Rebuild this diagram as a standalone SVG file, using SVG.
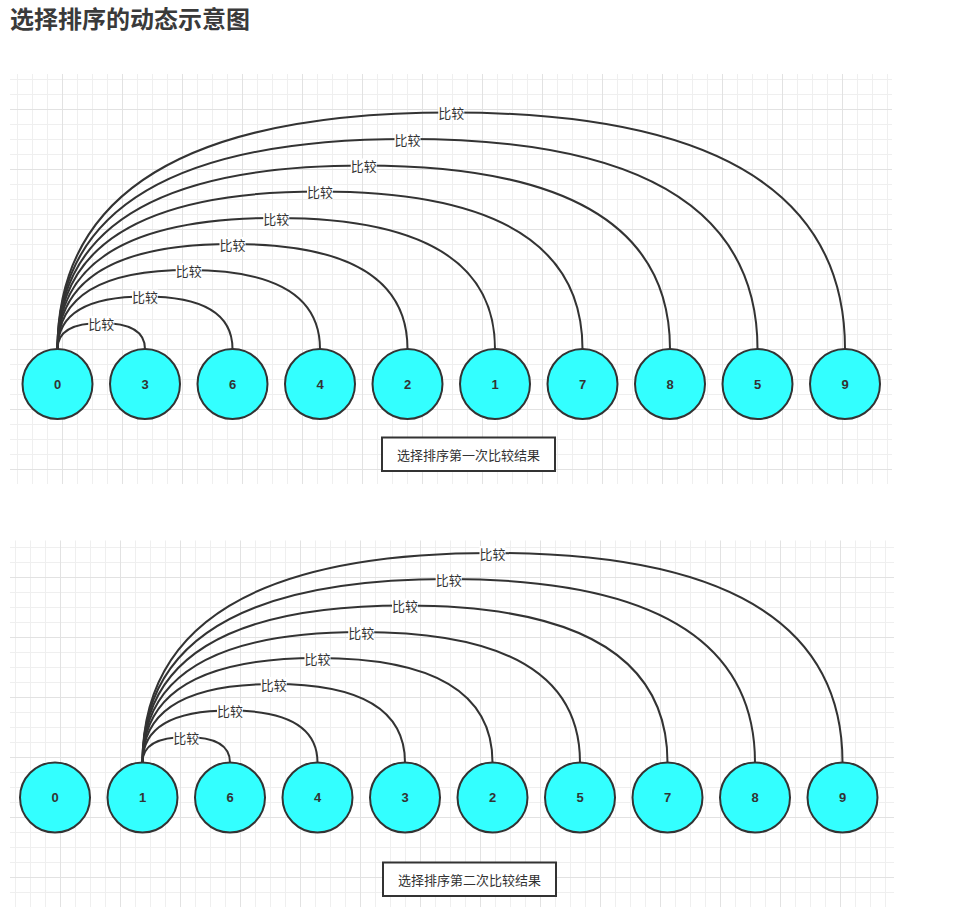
<svg xmlns="http://www.w3.org/2000/svg" width="963" height="907" viewBox="0 0 963 907">
  <defs>
    <!-- 15px minor grid, 60px major grid -->
    <pattern id="grid1" x="62" y="109" width="60" height="60" patternUnits="userSpaceOnUse">
      <path d="M15.5 0V60M30.5 0V60M45.5 0V60M0 15.5H60M0 30.5H60M0 45.5H60" stroke="#efefef" stroke-width="1" fill="none"/>
      <path d="M0.5 0V60M0 0.5H60" stroke="#e2e2e2" stroke-width="1" fill="none"/>
    </pattern>
    <pattern id="grid2" x="60" y="577" width="60" height="60" patternUnits="userSpaceOnUse">
      <path d="M15.5 0V60M30.5 0V60M45.5 0V60M0 15.5H60M0 30.5H60M0 45.5H60" stroke="#efefef" stroke-width="1" fill="none"/>
      <path d="M0.5 0V60M0 0.5H60" stroke="#e2e2e2" stroke-width="1" fill="none"/>
    </pattern>
  </defs>
  <style>
    .title { font-family: "Noto Sans CJK SC", "Liberation Sans", sans-serif; font-size: 24px; font-weight: bold; fill: #3a3a3a; }
    .node circle { fill: #33ffff; stroke: #333333; stroke-width: 2; }
    .node text { font-family: "Liberation Sans", "DejaVu Sans", sans-serif; font-size: 13px; font-weight: bold; fill: #333333; text-anchor: middle; dominant-baseline: central; }
    .edge path { fill: none; stroke: #333333; stroke-width: 2; }
    .edge rect { fill: #ffffff; }
    .edge text { font-family: "Noto Sans CJK SC", sans-serif; font-size: 13px; fill: #333333; text-anchor: middle; dominant-baseline: central; }
    .caption rect { fill: #ffffff; stroke: #333333; stroke-width: 2; }
    .caption text { font-family: "Noto Sans CJK SC", sans-serif; font-size: 13px; fill: #333333; text-anchor: middle; dominant-baseline: central; }
  </style>

  <rect width="963" height="907" fill="#ffffff"/>
  <text class="title" x="10" y="28">选择排序的动态示意图</text>

  <!-- grid backgrounds -->
  <rect x="10" y="74" width="882" height="410" fill="url(#grid1)"/>
  <rect x="10" y="540.5" width="884" height="366.5" fill="url(#grid2)"/>

  <!-- first pass: node 0 compared with every other node -->
  <g id="connectors-1">
    <g class="edge"><path d="M57.5 349Q57.5 323 101.25 323Q145 323 145 349"/><rect x="88.25" y="316" width="26" height="14"/><text x="101.25" y="323">比较</text></g>
    <g class="edge"><path d="M57.5 349Q57.5 296.5 145 296.5Q232.5 296.5 232.5 349"/><rect x="132" y="289.5" width="26" height="14"/><text x="145" y="296.5">比较</text></g>
    <g class="edge"><path d="M57.5 349Q57.5 270 188.75 270Q320 270 320 349"/><rect x="175.75" y="263" width="26" height="14"/><text x="188.75" y="270">比较</text></g>
    <g class="edge"><path d="M57.5 349Q57.5 244 232.5 244Q407.5 244 407.5 349"/><rect x="219.5" y="237" width="26" height="14"/><text x="232.5" y="244">比较</text></g>
    <g class="edge"><path d="M57.5 349Q57.5 218 276.25 218Q495 218 495 349"/><rect x="263.25" y="211" width="26" height="14"/><text x="276.25" y="218">比较</text></g>
    <g class="edge"><path d="M57.5 349Q57.5 191.5 320 191.5Q582.5 191.5 582.5 349"/><rect x="307" y="184.5" width="26" height="14"/><text x="320" y="191.5">比较</text></g>
    <g class="edge"><path d="M57.5 349Q57.5 165.5 363.75 165.5Q670 165.5 670 349"/><rect x="350.75" y="158.5" width="26" height="14"/><text x="363.75" y="165.5">比较</text></g>
    <g class="edge"><path d="M57.5 349Q57.5 139 407.5 139Q757.5 139 757.5 349"/><rect x="394.5" y="132" width="26" height="14"/><text x="407.5" y="139">比较</text></g>
    <g class="edge"><path d="M57.5 349Q57.5 112.5 451.25 112.5Q845 112.5 845 349"/><rect x="438.25" y="105.5" width="26" height="14"/><text x="451.25" y="112.5">比较</text></g>
  </g>

  <g id="row1-n0" class="node"><circle cx="57.5" cy="384" r="35"/><text x="57.5" y="384">0</text></g>
  <g id="row1-n1" class="node"><circle cx="145" cy="384" r="35"/><text x="145" y="384">3</text></g>
  <g id="row1-n2" class="node"><circle cx="232.5" cy="384" r="35"/><text x="232.5" y="384">6</text></g>
  <g id="row1-n3" class="node"><circle cx="320" cy="384" r="35"/><text x="320" y="384">4</text></g>
  <g id="row1-n4" class="node"><circle cx="407.5" cy="384" r="35"/><text x="407.5" y="384">2</text></g>
  <g id="row1-n5" class="node"><circle cx="495" cy="384" r="35"/><text x="495" y="384">1</text></g>
  <g id="row1-n6" class="node"><circle cx="582.5" cy="384" r="35"/><text x="582.5" y="384">7</text></g>
  <g id="row1-n7" class="node"><circle cx="670" cy="384" r="35"/><text x="670" y="384">8</text></g>
  <g id="row1-n8" class="node"><circle cx="757.5" cy="384" r="35"/><text x="757.5" y="384">5</text></g>
  <g id="row1-n9" class="node"><circle cx="845" cy="384" r="35"/><text x="845" y="384">9</text></g>

  <g id="caption-1" class="caption"><rect x="382" y="437.5" width="173" height="33.5"/><text x="468.5" y="454.5">选择排序第一次比较结果</text></g>

  <!-- second pass: node 1 compared with the remaining nodes -->
  <g id="connectors-2">
    <g class="edge"><path d="M142.5 762.5Q142.5 737 186.25 737Q230 737 230 762.5"/><rect x="173.25" y="730" width="26" height="14"/><text x="186.25" y="737">比较</text></g>
    <g class="edge"><path d="M142.5 762.5Q142.5 710.5 230 710.5Q317.5 710.5 317.5 762.5"/><rect x="217" y="703.5" width="26" height="14"/><text x="230" y="710.5">比较</text></g>
    <g class="edge"><path d="M142.5 762.5Q142.5 684 273.75 684Q405 684 405 762.5"/><rect x="260.75" y="677" width="26" height="14"/><text x="273.75" y="684">比较</text></g>
    <g class="edge"><path d="M142.5 762.5Q142.5 658 317.5 658Q492.5 658 492.5 762.5"/><rect x="304.5" y="651" width="26" height="14"/><text x="317.5" y="658">比较</text></g>
    <g class="edge"><path d="M142.5 762.5Q142.5 632 361.25 632Q580 632 580 762.5"/><rect x="348.25" y="625" width="26" height="14"/><text x="361.25" y="632">比较</text></g>
    <g class="edge"><path d="M142.5 762.5Q142.5 605.5 405 605.5Q667.5 605.5 667.5 762.5"/><rect x="392" y="598.5" width="26" height="14"/><text x="405" y="605.5">比较</text></g>
    <g class="edge"><path d="M142.5 762.5Q142.5 579 448.75 579Q755 579 755 762.5"/><rect x="435.75" y="572" width="26" height="14"/><text x="448.75" y="579">比较</text></g>
    <g class="edge"><path d="M142.5 762.5Q142.5 553 492.5 553Q842.5 553 842.5 762.5"/><rect x="479.5" y="546" width="26" height="14"/><text x="492.5" y="553">比较</text></g>
  </g>

  <g id="row2-n0" class="node"><circle cx="55" cy="797.5" r="35"/><text x="55" y="797.5">0</text></g>
  <g id="row2-n1" class="node"><circle cx="142.5" cy="797.5" r="35"/><text x="142.5" y="797.5">1</text></g>
  <g id="row2-n2" class="node"><circle cx="230" cy="797.5" r="35"/><text x="230" y="797.5">6</text></g>
  <g id="row2-n3" class="node"><circle cx="317.5" cy="797.5" r="35"/><text x="317.5" y="797.5">4</text></g>
  <g id="row2-n4" class="node"><circle cx="405" cy="797.5" r="35"/><text x="405" y="797.5">3</text></g>
  <g id="row2-n5" class="node"><circle cx="492.5" cy="797.5" r="35"/><text x="492.5" y="797.5">2</text></g>
  <g id="row2-n6" class="node"><circle cx="580" cy="797.5" r="35"/><text x="580" y="797.5">5</text></g>
  <g id="row2-n7" class="node"><circle cx="667.5" cy="797.5" r="35"/><text x="667.5" y="797.5">7</text></g>
  <g id="row2-n8" class="node"><circle cx="755" cy="797.5" r="35"/><text x="755" y="797.5">8</text></g>
  <g id="row2-n9" class="node"><circle cx="842.5" cy="797.5" r="35"/><text x="842.5" y="797.5">9</text></g>

  <g id="caption-2" class="caption"><rect x="383" y="862.5" width="173" height="33.5"/><text x="469.5" y="879.5">选择排序第二次比较结果</text></g>
</svg>
